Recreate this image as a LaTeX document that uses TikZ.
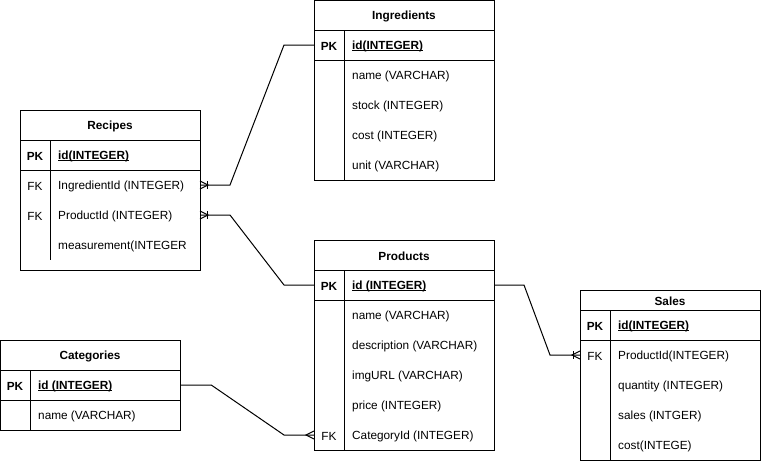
\documentclass[tikz,border=0pt]{standalone}
\usepackage{fontspec}
\setmainfont{Liberation Sans}
\newcommand\myul[1]{\setbox0\hbox{#1}\rlap{\rule[-1.3pt]{\wd0}{0.9pt}}\box0}
\begin{document}
\begin{tikzpicture}[x=1pt,y=-1pt,
  txt/.style={font=\fontsize{11.8}{14}\selectfont, yshift=-1.5pt},
  tablebox/.style={draw, line width=1pt, inner sep=0pt, outer sep=0pt},
  rowbox/.style={inner sep=0pt, outer sep=0pt, minimum height=30pt, minimum width=180pt},
  ttl/.style={txt, font=\fontsize{11.8}{14}\selectfont\bfseries},
  keycell/.style={txt},
  pkcell/.style={txt, font=\fontsize{11.8}{14}\selectfont\bfseries},
  field/.style={txt, anchor=west, inner sep=0pt},
  pkfield/.style={field, font=\fontsize{11.8}{14}\selectfont\bfseries},
  sep/.style={line width=1pt},
  conn/.style={line width=1pt}]
\useasboundingbox (0,0) rectangle (761,461);

% ---------------- Ingredients ----------------
\node[tablebox, minimum width=180pt, minimum height=179.5pt] (ing) at (404,90.25) {};
\draw[sep] (314,30) -- (494,30);
\draw[sep] (314,60) -- (494,60);
\draw[sep] (344,30) -- (344,180);
\node[ttl] (ingT) at (404,15) {Ingredients};
\node[rowbox] (ingPKrow) at (404,45) {};
\node[pkcell] (ingPK) at (329,45) {PK};
\node[pkfield] (ingId) at (352,45) {\myul{id(INTEGER)}};
\node[field] (ingName) at (352,75) {name (VARCHAR)};
\node[field] (ingStock) at (352,105) {stock (INTEGER)};
\node[field] (ingCost) at (352,135) {cost (INTEGER)};
\node[field] (ingUnit) at (352,165) {unit (VARCHAR)};

% ---------------- Recipes ----------------
\node[tablebox, minimum width=180pt, minimum height=160pt] (rec) at (110,190) {};
\draw[sep] (20,140) -- (200,140);
\draw[sep] (20,170) -- (200,170);
\draw[sep] (50,140) -- (50,260);
\node[ttl] (recT) at (110,125) {Recipes};
\node[pkcell] (recPK) at (35,155) {PK};
\node[pkfield] (recId) at (58,155) {\myul{id(INTEGER)}};
\node[rowbox] (recIngRow) at (110,185) {};
\node[keycell] (recFK1) at (35,185) {FK};
\node[field] (recIng) at (58,185) {IngredientId (INTEGER)};
\node[rowbox] (recProdRow) at (110,215) {};
\node[keycell] (recFK2) at (35,215) {FK};
\node[field] (recProd) at (58,215) {ProductId (INTEGER)};
\node[field] (recMeas) at (58,245) {measurement(INTEGER};

% ---------------- Products ----------------
\node[tablebox, minimum width=180pt, minimum height=210pt] (prod) at (404,345) {};
\draw[sep] (314,270) -- (494,270);
\draw[sep] (314,300) -- (494,300);
\draw[sep] (344,270) -- (344,450);
\node[ttl] (prodT) at (404,255) {Products};
\node[rowbox] (prodPKrow) at (404,285) {};
\node[pkcell] (prodPK) at (329,285) {PK};
\node[pkfield] (prodId) at (352,285) {\myul{id (INTEGER)}};
\node[field] (prodName) at (352,315) {name (VARCHAR)};
\node[field] (prodDesc) at (352,345) {description (VARCHAR)};
\node[field] (prodImg) at (352,375) {imgURL (VARCHAR)};
\node[field] (prodPrice) at (352,405) {price (INTEGER)};
\node[rowbox] (prodCatRow) at (404,435) {};
\node[keycell] (prodFK) at (329,435) {FK};
\node[field] (prodCat) at (352,435) {CategoryId (INTEGER)};

% ---------------- Sales ----------------
\node[tablebox, minimum width=180pt, minimum height=170pt] (sal) at (670,375) {};
\draw[sep] (580,310) -- (760,310);
\draw[sep] (580,340) -- (760,340);
\draw[sep] (610,310) -- (610,460);
\node[ttl] (salT) at (670,300) {Sales};
\node[pkcell] (salPK) at (595,325) {PK};
\node[pkfield] (salId) at (618,325) {\myul{id(INTEGER)}};
\node[rowbox] (salProdRow) at (670,355) {};
\node[keycell] (salFK) at (595,355) {FK};
\node[field] (salProd) at (618,355) {ProductId(INTEGER)};
\node[field] (salQty) at (618,385) {quantity (INTEGER)};
\node[field] (salSales) at (618,415) {sales (INTGER)};
\node[field] (salCost) at (618,445) {cost(INTEGE)};

% ---------------- Categories ----------------
\node[tablebox, minimum width=179.5pt, minimum height=90pt] (cat) at (90.25,385) {};
\draw[sep] (0.5,370) -- (180,370);
\draw[sep] (0.5,400) -- (180,400);
\draw[sep] (30,370) -- (30,430);
\node[ttl] (catT) at (90,355) {Categories};
\node[rowbox] (catPKrow) at (90.25,385) {};
\node[pkcell] (catPK) at (15,385) {PK};
\node[pkfield] (catId) at (38,385) {\myul{id (INTEGER)}};
\node[field] (catName) at (38,415) {name (VARCHAR)};

% ---------------- Connectors ----------------
\draw[conn] (recIngRow.east) -- ([xshift=30pt]recIngRow.east) -- ([xshift=-30pt]ingPKrow.west) -- (ingPKrow.west);
\draw[conn] (recProdRow.east) -- ([xshift=30pt]recProdRow.east) -- ([xshift=-30pt]prodPKrow.west) -- (prodPKrow.west);
\draw[conn] (prodPKrow.east) -- ([xshift=30pt]prodPKrow.east) -- ([xshift=-30pt]salProdRow.west) -- (salProdRow.west);
\draw[conn] (catPKrow.east) -- ([xshift=31pt]catPKrow.east) -- ([xshift=-30pt]prodCatRow.west) -- (prodCatRow.west);

% crow's feet
\draw[conn] ([yshift=4pt]recIngRow.east) -- ([xshift=8pt]recIngRow.east) -- ([yshift=-4pt]recIngRow.east);
\draw[conn] ([xshift=7pt,yshift=4pt]recIngRow.east) -- ([xshift=7pt,yshift=-4pt]recIngRow.east);
\draw[conn] ([yshift=4pt]recProdRow.east) -- ([xshift=8pt]recProdRow.east) -- ([yshift=-4pt]recProdRow.east);
\draw[conn] ([xshift=7pt,yshift=4pt]recProdRow.east) -- ([xshift=7pt,yshift=-4pt]recProdRow.east);
\draw[conn] ([yshift=4pt]salProdRow.west) -- ([xshift=-8pt]salProdRow.west) -- ([yshift=-4pt]salProdRow.west);
\draw[conn] ([xshift=-7pt,yshift=4pt]salProdRow.west) -- ([xshift=-7pt,yshift=-4pt]salProdRow.west);
\draw[conn] ([yshift=4pt]prodCatRow.west) -- ([xshift=-8pt]prodCatRow.west) -- ([yshift=-4pt]prodCatRow.west);
\end{tikzpicture}
\end{document}
